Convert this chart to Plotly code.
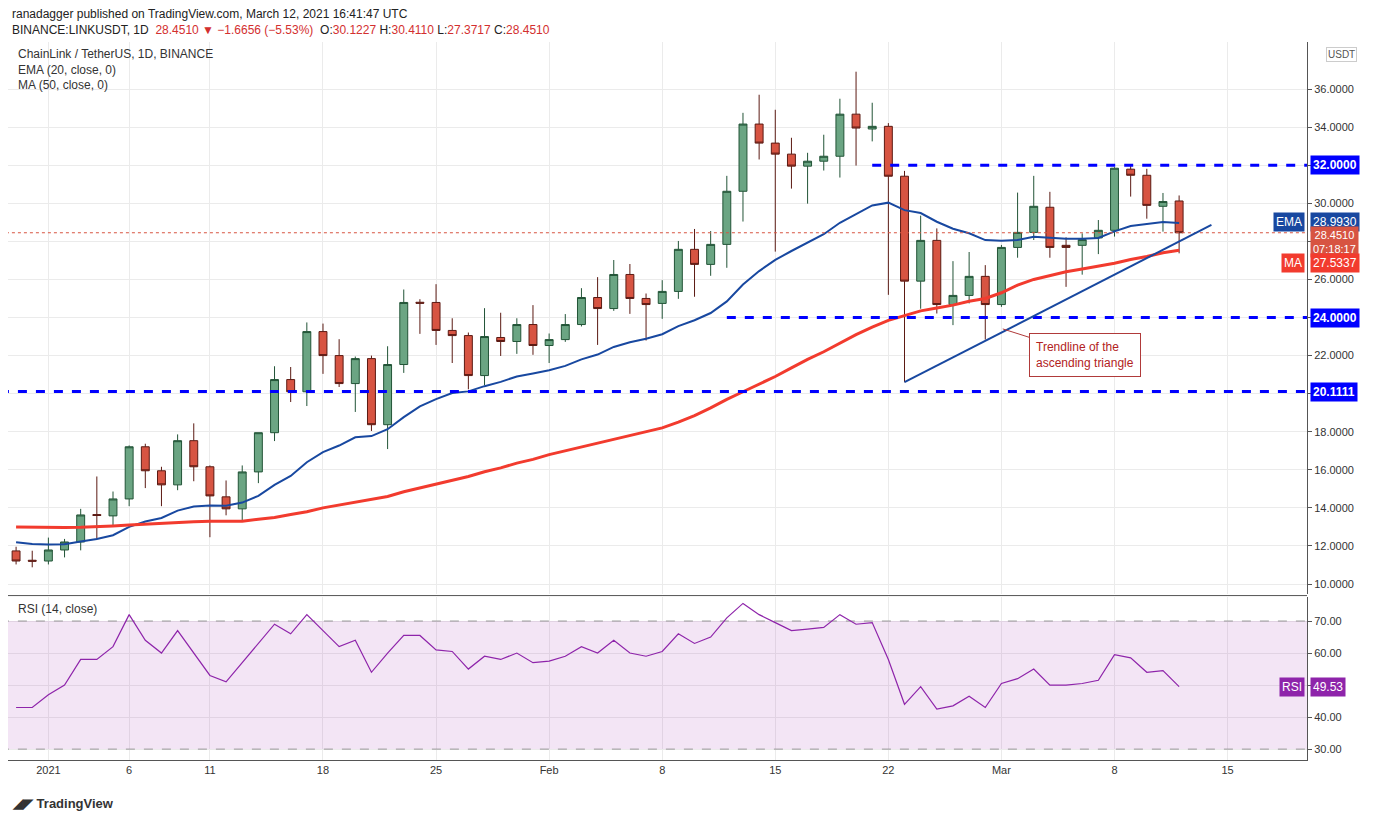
import plotly.graph_objects as go
import pandas as pd

dates = pd.date_range("2020-12-30", "2021-03-12").strftime("%Y-%m-%d").tolist()
opens = [11.74,11.25,11.21,11.79,12.21,13.65,13.58,14.47,17.21,15.95,15.21,17.53,16.16,14.58,13.95,15.89,17.95,20.74,20.10,23.26,22.00,20.53,21.84,18.37,21.53,24.80,
         24.79,23.32,23.05,20.95,22.95,22.74,23.63,22.53,22.84,23.63,25.05,24.47,26.26,25.00,24.74,25.37,27.58,26.79,27.84,30.63,34.16,33.16,32.58,31.95,32.21,32.47,34.68,33.90,
         34.04,31.42,25.91,28.05,24.68,25.16,26.16,24.68,27.68,28.47,29.79,27.79,27.79,28.18,28.58,31.79,31.47,29.84,30.12]
highs = [11.96,11.75,12.44,12.37,13.95,15.65,14.86,17.28,17.37,16.16,17.86,18.44,16.23,15.44,16.23,17.95,21.44,21.40,23.74,23.68,22.86,21.95,22.00,22.49,25.47,24.96,
         25.75,23.96,23.21,24.49,24.25,23.96,24.65,23.16,24.18,25.54,26.12,27.02,26.81,25.26,25.96,28.02,28.65,28.54,31.44,34.75,35.70,34.91,33.44,32.65,33.60,35.49,36.91,35.28,
         34.21,31.70,29.35,28.68,26.96,27.44,26.75,27.81,30.56,31.44,30.60,28.21,28.42,29.12,31.89,31.98,31.81,30.54,30.41]
lows = [11.03,10.88,11.03,11.40,11.77,12.37,13.04,14.09,15.04,14.09,14.93,15.40,12.46,13.61,13.30,15.30,17.51,19.56,19.35,21.04,20.35,19.04,18.04,17.09,21.09,23.14,
        22.56,21.61,20.23,20.44,21.98,22.09,22.04,21.61,22.72,23.53,22.56,24.35,24.19,22.79,23.93,24.98,25.09,26.19,26.61,29.04,32.30,27.46,30.77,29.98,31.72,31.35,31.98,33.25,
        25.19,20.60,24.46,24.21,23.60,24.74,22.84,24.56,27.14,28.07,27.14,25.61,26.25,27.33,28.25,30.35,29.19,28.51,27.37]
closes = [11.21,11.20,11.79,12.21,13.63,13.60,14.47,17.21,15.95,15.21,17.53,16.16,14.63,13.95,15.89,17.95,20.74,20.10,23.26,22.00,20.53,21.84,18.37,21.53,24.79,24.75,
          23.32,23.05,20.95,23.00,22.74,23.63,22.53,22.84,23.63,25.05,24.47,26.26,25.00,24.68,25.37,27.58,26.79,27.84,30.63,34.16,33.16,32.58,31.95,32.21,32.47,34.68,33.95,34.04,
          31.42,25.91,28.05,24.68,25.16,26.16,24.68,27.68,28.47,29.84,27.68,27.68,28.09,28.58,31.84,31.47,29.89,30.09,28.451]
ma50 = [13.00,12.98,12.97,12.97,12.98,13.00,13.05,13.10,13.15,13.18,13.22,13.27,13.30,13.30,13.30,13.40,13.50,13.65,13.80,14.00,14.15,14.30,14.45,14.60,14.85,15.05,
        15.25,15.45,15.65,15.90,16.10,16.35,16.55,16.80,17.00,17.20,17.40,17.60,17.80,18.00,18.20,18.50,18.85,19.25,19.70,20.10,20.50,20.90,21.35,21.80,22.20,22.65,23.10,23.50,
        23.85,24.10,24.35,24.50,24.65,24.85,25.00,25.30,25.70,26.00,26.20,26.40,26.55,26.70,26.85,27.05,27.20,27.40,27.5337]
rsi = [43,43,47,50,58,58,62,72,64,60,67,60,53,51,57,63,69,66,72,67,62,64,54,60,65.5,65.5,
       61,60.5,55,59,58,60,57,57.5,59,62,60,64,60,59,60.5,66,63,65,71,75.5,72,69.5,67,67.5,68,72,69,69.5,
       58,44,49.5,42.5,43.5,46.5,43,50.5,52,55,50,50,50.5,51.5,59.5,58.5,54,54.5,49.53]

ema_seed = 12.3
ema = []
e = ema_seed
for c in closes:
    e = e + (c - e) * 2 / 21
    ema.append(e)

fig = go.Figure()
fig.add_trace(go.Candlestick(x=dates, open=opens, high=highs, low=lows, close=closes,
    increasing=dict(fillcolor="#6ba583", line=dict(color="#225437", width=1)),
    decreasing=dict(fillcolor="#d75442", line=dict(color="#5b1a13", width=1)),
    whiskerwidth=0, yaxis="y", showlegend=False, hoverinfo="skip"))
fig.add_trace(go.Scatter(x=dates, y=ema, mode="lines", line=dict(color="#1848a0", width=2), yaxis="y", showlegend=False))
fig.add_trace(go.Scatter(x=dates, y=ma50, mode="lines", line=dict(color="#f23b2e", width=3), yaxis="y", showlegend=False))
fig.add_trace(go.Scatter(x=["2020-12-29", "2021-03-20"], y=[70, 70], mode="lines", line=dict(color="#999", width=1, dash="dash"), yaxis="y2", showlegend=False))
fig.add_trace(go.Scatter(x=["2020-12-29", "2021-03-20"], y=[30, 30], mode="lines", line=dict(color="#999", width=1, dash="dash"),
                         fill="tonexty", fillcolor="rgba(156,39,176,0.12)", yaxis="y2", showlegend=False))
fig.add_trace(go.Scatter(x=dates, y=rsi, mode="lines", line=dict(color="#8e24aa", width=1.2), yaxis="y2", showlegend=False))

for y0, xs in [(32, "2021-02-21"), (24, "2021-02-12"), (20.1111, "2020-12-29")]:
    fig.add_shape(type="line", x0=xs, x1="2021-03-20", y0=y0, y1=y0, xref="x", yref="y",
                  line=dict(color="#0000ff", width=3, dash="dash"))
fig.add_shape(type="line", x0="2020-12-29", x1="2021-03-20", y0=28.451, y1=28.451, xref="x", yref="y",
              line=dict(color="#d75442", width=1, dash="dot"))
fig.add_shape(type="line", x0="2021-02-23", x1="2021-03-14", y0=20.6, y1=28.86, xref="x", yref="y",
              line=dict(color="#1848a0", width=2))
fig.add_annotation(x="2021-03-01 02:00", y=23.4, xref="x", yref="y", ax=82, ay=26, text="Trendline of the<br>ascending triangle",
                   showarrow=True, arrowcolor="#b03a3a", arrowhead=0, font=dict(color="#b22222", size=12, family="Arial"),
                   bordercolor="#b03a3a", borderwidth=1, borderpad=6, bgcolor="white", align="left")

def tag(y, text, bg, yref="y", x=1.002, xanchor="left", fg="white", size=12):
    fig.add_annotation(x=x, y=y, xref="paper", yref=yref, text=text, showarrow=False, xanchor=xanchor,
                       bgcolor=bg, font=dict(color=fg, size=size, family="Arial"), borderpad=2)
tag(32, "<b>32.0000</b>", "#0000ff")
tag(24, "<b>24.0000</b>", "#0000ff")
tag(20.1111, "<b>20.1111</b>", "#0000ff")
tag(28.993, "28.9930", "#1848a0")
tag(27.95, "28.4510<br>07:18:17", "#d75442", size=11)
tag(26.85, "27.5337", "#f23b2e")
tag(49.53, "49.53", "#8e24aa", yref="y2")
tag(28.993, "EMA", "#1848a0", x=0.9985, xanchor="right")
tag(26.85, "MA", "#f23b2e", x=0.9985, xanchor="right")
tag(49.53, "RSI", "#8e24aa", yref="y2", x=0.9985, xanchor="right")
fig.add_annotation(x=1.015, y=37.8, xref="paper", yref="y", text="USDT", showarrow=False, xanchor="left",
                   bordercolor="#ccc", borderwidth=1, font=dict(size=10, color="#555"), bgcolor="white")

fig.add_annotation(x=0, y=1.052, xref="paper", yref="paper", xanchor="left", yanchor="top", showarrow=False,
                   text="ranadagger published on TradingView.com, March 12, 2021 16:41:47 UTC<br>BINANCE:LINKUSDT, 1D  <span style='color:#d32f2f'>28.4510 ▼ −1.6656 (−5.53%)</span>  O:<span style='color:#d32f2f'>30.1227</span> H:<span style='color:#d32f2f'>30.4110</span> L:<span style='color:#d32f2f'>27.3717</span> C:<span style='color:#d32f2f'>28.4510</span>",
                   font=dict(size=12, color="#222", family="Arial"), align="left", xshift=2)
fig.add_annotation(x=0, y=1.0, xref="paper", yref="paper", xanchor="left", yanchor="top", showarrow=False,
                   text="ChainLink / TetherUS, 1D, BINANCE<br>EMA (20, close, 0)<br>MA (50, close, 0)",
                   font=dict(size=12, color="#333", family="Arial"), align="left", xshift=8, yshift=-3)
fig.add_annotation(x=0, y=0.227, xref="paper", yref="paper", xanchor="left", yanchor="top", showarrow=False,
                   text="RSI (14, close)", font=dict(size=12, color="#333", family="Arial"), xshift=8, yshift=-3)
fig.add_annotation(x=0, y=-0.061, xref="paper", yref="paper", xanchor="left", yanchor="middle", showarrow=False,
                   text="<b>◢◤ TradingView</b>", font=dict(size=13, color="#333", family="Arial"), xshift=2)

ticks = ["2021-01-01","2021-01-06","2021-01-11","2021-01-18","2021-01-25","2021-02-01","2021-02-08","2021-02-15","2021-02-22","2021-03-01","2021-03-08","2021-03-15"]
ticklab = ["2021","6","11","18","25","Feb","8","15","22","Mar","8","15"]
grid = "#ebebeb"
fig.update_layout(
    width=1376, height=823, paper_bgcolor="white", plot_bgcolor="white",
    margin=dict(l=0, r=77, t=34, b=71), font=dict(family="Arial", size=11, color="#333"),
    xaxis=dict(range=["2020-12-29 12:00", "2021-03-19 22:00"], tickvals=ticks, ticktext=ticklab, showgrid=True, gridcolor=grid,
               rangeslider=dict(visible=False), anchor="y2", showline=True, linecolor="#555", ticks="", zeroline=False),
    yaxis=dict(domain=[0.231, 1], range=[9.47, 38.47], side="right", tickvals=list(range(10, 37, 2)),
               ticktext=[f"{v:.4f}" for v in range(10, 37, 2)], showgrid=True, gridcolor=grid, showline=True, linecolor="#555",
               ticks="outside", ticklen=4, tickcolor="#555", zeroline=False),
    yaxis2=dict(domain=[0, 0.227], range=[26.6, 77.5], side="right", tickvals=[30, 40, 50, 60, 70],
                ticktext=["30.00", "40.00", "50.00", "60.00", "70.00"], showgrid=True, gridcolor=grid, showline=True,
                linecolor="#555", ticks="outside", ticklen=4, tickcolor="#555", zeroline=False),
)
fig.add_shape(type="line", xref="paper", yref="paper", x0=0, x1=1, y0=0.229, y1=0.229, line=dict(color="#555", width=1))
fig.write_html("out.html")
